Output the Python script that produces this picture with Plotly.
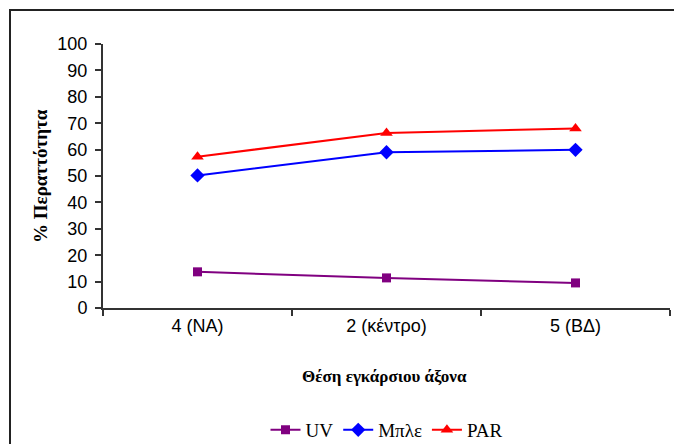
import plotly.graph_objects as go

categories = ["4 (NA)", "2 (κέντρο)", "5 (ΒΔ)"]
uv = [13.7, 11.4, 9.5]
blue = [50.2, 59.0, 59.9]
par = [57.3, 66.3, 68.0]
y_ticks = list(range(0, 101, 10))

fig = go.Figure()
fig.add_trace(go.Scatter(x=categories, y=uv, name="UV", mode="lines+markers",
                         line=dict(color="#800080", width=2),
                         marker=dict(symbol="square", size=9, color="#800080")))
fig.add_trace(go.Scatter(x=categories, y=blue, name="Μπλε", mode="lines+markers",
                         line=dict(color="#0000FF", width=2),
                         marker=dict(symbol="diamond", size=11, color="#0000FF")))
fig.add_trace(go.Scatter(x=categories, y=par, name="PAR", mode="lines+markers",
                         line=dict(color="#FF0000", width=2),
                         marker=dict(symbol="triangle-up", size=11, color="#FF0000")))

H = 444
T, B = 44, H - 308
axis_color = "#333333"
fig.update_layout(
    width=674, height=H,
    margin=dict(l=103, r=4, t=T, b=B, autoexpand=False),
    paper_bgcolor="white", plot_bgcolor="white",
    font=dict(family="Liberation Sans, Arial", size=18, color="black"),
    showlegend=True,
    legend=dict(orientation="h", x=0.5, xanchor="center", y=(308 - 430) / 264, yanchor="middle",
                font=dict(family="Liberation Serif, Times New Roman", size=19, color="black"),
                itemwidth=30, tracegroupgap=0),
    xaxis=dict(type="category", range=[-0.5, 2.5], showgrid=False, zeroline=False,
               showline=True, linecolor=axis_color, linewidth=2,
               ticks="outside", tickson="boundaries", ticklen=6, tickcolor=axis_color, tickwidth=1.5,
               tickfont=dict(size=18)),
    yaxis=dict(range=[0, 100], tickvals=y_ticks, showgrid=False, zeroline=False,
               showline=True, linecolor=axis_color, linewidth=2,
               ticks="outside", ticklen=6, tickcolor=axis_color, tickwidth=1.5,
               ticklabelstandoff=4, tickfont=dict(size=18)),
    annotations=[
        dict(text="<b>Θέση εγκάρσιου άξονα</b>", xref="paper", yref="paper",
             x=(384.7 - 103) / 567, y=(308 - 376) / 264, xanchor="center", yanchor="middle",
             showarrow=False, font=dict(family="Liberation Serif, Times New Roman", size=17, color="black")),
        dict(text="<b>% Περαττότητα</b>", xref="paper", yref="paper",
             x=(40 - 103) / 567, y=0.5, xanchor="center", yanchor="middle", textangle=-90,
             showarrow=False, font=dict(family="Liberation Serif, Times New Roman", size=19, color="black")),
    ],
    shapes=[
        dict(type="rect", xref="paper", yref="paper",
             x0=(10 - 103) / 567, x1=1.3, y0=-0.8, y1=(308 - 10) / 264,
             line=dict(color="#222222", width=2), fillcolor="rgba(0,0,0,0)", layer="below"),
    ],
)

fig.write_html("out.html", config={"displayModeBar": False},
               post_script="document.body.style.margin='0';document.body.style.overflow='hidden';")
